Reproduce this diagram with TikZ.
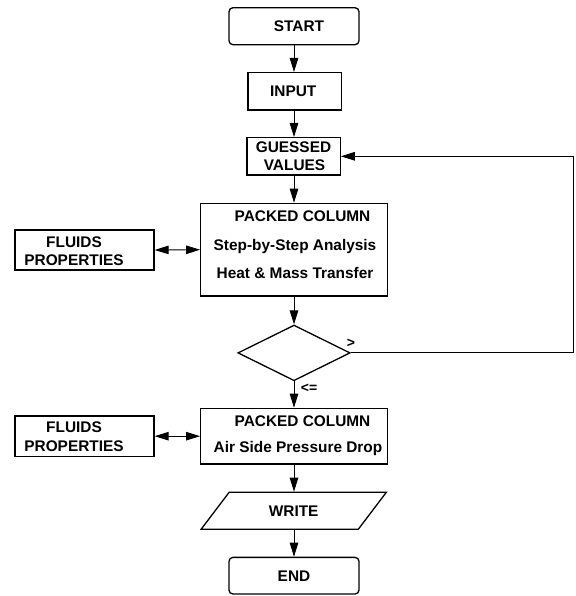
\documentclass[tikz,border=0pt]{standalone}
\usepackage{fontspec}
\setmainfont{Liberation Sans}
\usetikzlibrary{arrows.meta,shapes.geometric}
\begin{document}
\begin{tikzpicture}[x=1pt,y=-1pt,
 every node/.style={font=\fontsize{15.4}{18.5}\selectfont\bfseries},
 box/.style={draw,line width=1.3pt,inner sep=0pt},
 txt/.style={align=center,inner sep=0pt},
 lbl/.style={inner sep=0pt,font=\fontsize{14}{16}\selectfont\bfseries},
 arr/.style={line width=0.9pt,-{Triangle[length=14pt,width=8.5pt]}},
 darr/.style={line width=0.9pt,{Triangle[length=14pt,width=8.5pt]}-{Triangle[length=14pt,width=8.5pt]}},
]
\useasboundingbox (0,0) rectangle (575,596);
\node[box,rounded corners=4pt,minimum width=130pt,minimum height=37pt] (start) at (294,26.2) {\hspace*{10pt}START};
\node[box,minimum width=93.5pt,minimum height=37.3pt] (input) at (294.8,91.3) {INPUT\hspace*{3pt}};
\node[box,minimum width=93.3pt,minimum height=37.3pt,align=center,font=\fontsize{15.4}{18}\selectfont\bfseries] (guess) at (293.5,156.3) {GUESSED\\\hspace*{2pt}VALUES};
\node[box,minimum width=186.6pt,minimum height=92.7pt] (pc1) at (294,249.7) {};
\node[txt] (pc1t) at (295,244.8) {\hspace*{15pt}PACKED COLUMN\\[9.75pt]Step-by-Step Analysis\\[9.75pt]Heat \& Mass Transfer};
\node[box,minimum width=139pt,minimum height=40pt] (fp1) at (84.5,250) {};
\node[txt,font=\fontsize{15.4}{18}\selectfont\bfseries] (fp1t) at (74,251) {FLUIDS\\PROPERTIES};
\node[box,diamond,minimum width=112.3pt,minimum height=55.7pt] (dec) at (294,352.9) {};
\node[box,minimum width=186.6pt,minimum height=55.7pt] (pc2) at (294,436.2) {};
\node[txt] (pc2t) at (298,435.9) {\hspace*{9pt}PACKED COLUMN\\[8pt]Air Side Pressure Drop};
\node[box,minimum width=139pt,minimum height=40.7pt] (fp2) at (84.5,436.3) {};
\node[txt,font=\fontsize{15.4}{19}\selectfont\bfseries] (fp2t) at (74,437.1) {FLUIDS\\PROPERTIES};
\node[box,trapezium,trapezium left angle=44.5,trapezium right angle=135.5,trapezium stretches=true,minimum width=186pt,minimum height=37pt] (write) at (293.7,510.8) {WRITE};
\node[box,rounded corners=4pt,minimum width=130pt,minimum height=36.7pt] (end) at (294,575.7) {END};
\node[lbl] (gt) at (351,343.5) {>};
\node[lbl] (le) at (309,388) {<=};
\coordinate (fb) at (573.3,352.9);
\draw[arr] (start.south) -- (start.south |- input.north);
\draw[arr] (start.south |- input.south) -- (start.south |- guess.north);
\draw[arr] (start.south |- guess.south) -- (pc1.north);
\draw[arr] (pc1.south) -- (dec.north);
\draw[arr] (dec.south) -- (pc2.north);
\draw[arr] (pc2.south) -- (pc2.south |- write.north);
\draw[arr] (pc2.south |- write.south) -- (end.north);
\draw[arr] (dec.east) -- (fb) |- (guess.east);
\draw[darr] (fp1.east) -- (pc1.west);
\draw[darr] (fp2.east |- pc2.west) -- (pc2.west);
\end{tikzpicture}
\end{document}
